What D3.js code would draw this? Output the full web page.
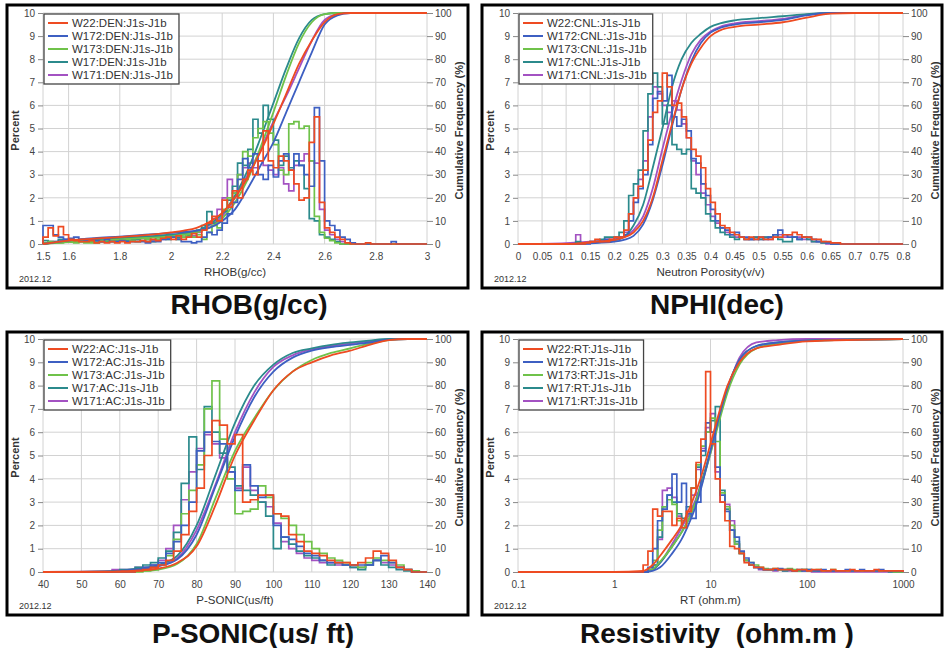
<!DOCTYPE html>
<html><head><meta charset="utf-8">
<script src="https://cdn.jsdelivr.net/npm/d3@7"></script>
<style>body{margin:0;background:#fff;} svg{display:block;font-family:"Liberation Sans",Arial,sans-serif;}</style>
</head><body><svg id="c" width="945" height="648"></svg>
<script>
// ---------------- DATA ----------------
const wells = ["W22","W172","W173","W17","W171"];
const wellColors = ["#ee4b22","#3d5fc2","#6fc24a","#2b8a8c","#a352c2"];
const percentTicks = [0,1,2,3,4,5,6,7,8,9,10];
const cumTicks = [0,10,20,30,40,50,60,70,80,90,100];

// RHOB (DEN) histogram: bins of 0.02 starting 1.50
const denBinStart = 1.5, denBinWidth = 0.02;
const denW22Hist = [0.3,0.7,0.35,0.75,0.4,0.2,0.15,0.1,0.1,0.15,0.05,0.1,0.05,0.1,0.05,0.1,0.05,0.1,0.1,0.15,0.1,0.2,0.15,0.25,0.3,0.2,0.35,0.2,0.3,0.45,0.3,0.6,0.9,1.2,1.0,1.9,1.6,2.3,2.0,2.8,3.2,3.0,3.6,4.9,3.6,3.3,3.8,3.6,3.2,2.6,1.9,2.0,4.4,5.5,1.8,0.7,0.5,0.3,0.2,0.05,0,0,0,0.05,0];
const denW172Hist = [0.8,0.8,0.4,0.3,0.2,0.25,0.3,0.2,0.15,0.2,0.15,0.1,0.2,0.1,0.1,0.15,0.1,0.1,0.1,0.1,0.05,0.1,0.1,0.2,0.2,0.3,0.2,0.1,0.1,0.05,0.1,0.3,0.5,0.4,0.6,0.9,1.3,1.8,2.8,3.7,3.3,3.9,3.0,2.8,3.4,2.9,3.6,3.9,3.2,3.9,3.4,3.0,2.5,5.9,3.6,1.0,0.8,0.6,0.3,0.2,0.05,0,0,0,0,0,0,0,0.1,0];
const denW173Hist = [0.05,0.1,0.05,0.05,0.1,0.1,0.05,0.1,0.05,0.05,0.05,0.1,0.15,0.1,0.1,0.15,0.2,0.15,0.1,0.15,0.2,0.1,0.2,0.25,0.2,0.3,0.2,0.3,0.4,0.3,0.4,0.2,0.5,0.8,0.7,1.5,2.0,2.2,3.0,4.0,3.8,4.6,5.0,5.3,4.8,4.3,3.2,3.0,5.2,5.3,5.0,5.1,3.6,1.2,0.5,0.25,0.15,0.05];
const denW17Hist = [0.15,0.1,0.1,0.2,0.15,0.2,0.1,0.15,0.1,0.2,0.15,0.2,0.1,0.2,0.15,0.2,0.15,0.2,0.2,0.25,0.2,0.3,0.2,0.3,0.25,0.35,0.3,0.4,0.35,0.5,0.6,0.8,1.4,0.9,1.0,1.4,1.9,2.5,3.5,3.4,4.1,5.4,4.8,6.0,5.4,4.5,3.4,3.8,3.3,3.6,3.4,2.4,1.1,1.0,0.4,0.3,0.2,0.1];
const denW171Hist = [0.05,0.1,0.1,0.15,0.2,0.2,0.15,0.1,0.15,0.1,0.15,0.1,0.1,0.15,0.1,0.2,0.15,0.15,0.2,0.15,0.2,0.15,0.3,0.2,0.25,0.3,0.25,0.3,0.4,0.35,0.5,0.7,0.9,1.1,1.5,2.0,2.8,2.2,3.0,3.3,3.5,3.3,3.6,3.4,3.2,3.0,3.3,2.6,2.3,3.4,3.6,3.9,3.6,3.5,1.5,0.6,0.4,0.2,0.1];
const denCumX = [1.5,1.6,1.7,1.8,1.9,2.0,2.05,2.1,2.15,2.2,2.25,2.3,2.35,2.4,2.45,2.5,2.55,2.6,2.65,2.7,2.8,3.0];
const denW22Cum = [0,1.5,2.3,3,3.8,5,5.8,7,9.5,13.5,20,29,40,52,65,78,88,96,99.5,100,100,100];
const denW172Cum = [0,1.5,2.5,3.2,4,4.8,5.2,5.8,7,10,15,24,34,44,57,70,83,95,99,100,100,100];
const denW173Cum = [0,0.8,1.3,2,2.6,3.3,4,5,7,11,18,28,42,57,73,87,96,99.5,100,100,100,100];
const denW17Cum = [0,1.2,2,2.6,3.2,4,4.6,5.5,8.5,13,21,32,46,61,76,89,97,99.5,100,100,100,100];
const denW171Cum = [0,1,1.7,2.3,3,3.8,4.5,5.5,8,12,20,30,41,53,64,76,88,97,99.5,100,100,100];
const denTicks = [1.5,1.6,1.8,2,2.2,2.4,2.6,2.8,3];

// NPHI (CNL) histogram: bins of 0.01 starting 0.10
const cnlBinStart = 0.1, cnlBinWidth = 0.01;
const cnlW22Hist = [0,0,0,0,0.05,0.1,0.2,0.1,0.1,0.2, 0.3,0.3,0.6,1.3,2.0,2.5,3.2,4.5,5.7,6.2, 7.4,6.8,6.0,6.1,5.5,4.6,4.1,3.8,3.3,2.4, 1.8,1.3,0.8,0.7,0.5,0.4,0.3,0.2,0.3,0.2, 0.3,0.2,0.2,0.3,0.3,0.4,0.4,0.5,0.4,0.3, 0.3,0.2,0.2,0.1,0.1,0.05,0.05,0,0,0];
const cnlW172Hist = [0,0,0,0,0,0.05,0.1,0.1,0.2,0.15, 0.2,0.3,0.4,1.0,1.8,2.4,3.0,4.3,6.3,6.6, 6.2,7.3,5.5,5.1,5.4,4.9,3.7,3.5,2.6,2.1, 1.5,1.0,0.7,0.6,0.4,0.5,0.3,0.3,0.2,0.2, 0.3,0.2,0.3,0.4,0.6,0.4,0.3,0.3,0.2,0.3, 0.3,0.2,0.1,0.1,0.05,0,0,0,0,0];
const cnlW173Hist = [];
const cnlW17Hist = [0,0,0.1,0,0.05,0.1,0.1,0.2,0.3,0.3, 0.3,0.5,1.0,2.1,2.6,3.2,4.9,6.5,7.4,6.8, 5.2,6.0,4.3,4.1,3.9,4.1,2.4,2.2,2.0,1.3, 1.0,0.7,0.5,0.4,0.3,0.2,0.3,0.2,0.2,0.3, 0.2,0.3,0.3,0.4,0.2,0.1,0.1,0.3,0.2,0.3, 0.2,0.1,0.1,0.05,0.05,0,0,0,0,0];
const cnlW171Hist = [0,0,0.4,0.05,0.05,0.1,0.1,0.15,0.2,0.2, 0.3,0.3,0.5,1.3,2.0,2.8,3.6,5.5,6.8,6.5, 6.0,5.7,6.2,5.8,5.2,4.6,3.6,3.0,2.2,1.7, 1.2,0.9,0.7,0.5,0.4,0.3,0.3,0.2,0.2,0.3, 0.2,0.3,0.2,0.3,0.4,0.3,0.4,0.3,0.3,0.2, 0.2,0.1,0.1,0.05,0,0,0,0,0,0];
const cnlCumX = [0,0.1,0.15,0.2,0.22,0.24,0.26,0.28,0.3,0.32,0.34,0.36,0.38,0.4,0.42,0.45,0.5,0.55,0.6,0.65,0.7,0.8];
const cnlW22Cum = [0,0,0.8,1.8,2.8,5,10,20,36,52,67,78,85,90,92.5,94,95,96,98,99.7,100,100];
const cnlW172Cum = [0,0,0.3,1,1.8,3.5,8.5,19,34,51,67,79,87,91.5,93.5,95,96,97,99,100,100,100];
const cnlW173Cum = [];
const cnlW17Cum = [0,0,0.5,1.5,3,8,17,33,50,68,80,87,91,94,95.5,96.8,97.8,98.6,99.5,100,100,100];
const cnlW171Cum = [0,0.4,1,2,3,6,12,24,41,57,71,82,88.5,92,94,95.5,96.5,97.5,99.3,100,100,100];
const cnlTicks = [0,0.05,0.1,0.15,0.2,0.25,0.3,0.35,0.4,0.45,0.5,0.55,0.6,0.65,0.7,0.75,0.8];

// P-SONIC (AC) histogram: bins of 2 starting 56
const acBinStart = 56, acBinWidth = 2;
const acW22Hist = [0,0,0,0,0.05,0.1,0.2,0.3,0.5,0.9,1.6,2.6,3.6,5.0,6.5,6.3,5.5,5.9,3.0,3.1,3.3,3.3,2.5,2.4,1.6,1.3,0.9,0.8,0.7,0.5,0.4,0.4,0.3,0.4,0.6,0.9,0.8,0.5,0.2,0.1,0];
const acW172Hist = [0,0,0,0,0.1,0.2,0.3,0.4,0.8,1.3,2.0,3.0,5.2,6.0,5.6,5.5,4.3,3.5,4.6,3.7,3.2,3.3,2.0,1.5,1.4,1.1,0.8,0.7,0.5,0.4,0.4,0.3,0.3,0.3,0.3,0.5,0.7,0.4,0.2,0.1,0];
const acW173Hist = [0,0,0,0,0,0.05,0.1,0.3,0.7,1.4,2.5,3.5,4.6,7.0,8.2,5.7,4.0,2.5,2.6,2.7,3.7,3.2,2.5,2.3,2.0,1.6,1.3,1.0,0.8,0.6,0.5,0.4,0.3,0.2,0.4,0.6,0.5,0.4,0.3,0.1,0.05];
const acW17Hist = [0,0.05,0.1,0.1,0.2,0.3,0.4,0.6,0.9,1.7,3.8,5.8,4.4,7.1,6.0,5.1,4.5,3.7,3.5,3.3,3.0,2.4,1.0,1.5,1.2,0.9,0.7,0.6,0.5,0.3,0.4,0.3,0.2,0.1,0.3,0.5,0.3,0.2,0.1,0.05,0];
const acW171Hist = [0,0.1,0.1,0.1,0.2,0.2,0.3,0.5,1.0,2.0,3.1,4.3,5.3,5.9,5.5,4.9,4.3,3.6,4.5,3.5,3.0,2.8,2.1,1.3,1.0,0.8,0.6,0.5,0.4,0.4,0.3,0.3,0.2,0.2,0.3,0.5,0.4,0.3,0.2,0.1,0];
const acCumX = [40,56,60,65,70,75,80,85,90,95,100,105,110,115,120,125,130,135,140];
const acW22Cum = [0,0.1,0.3,0.7,1.5,4,11,29,50,65,78,86,90,93,95,97.5,99.5,100,100];
const acW172Cum = [0,0.2,0.5,1.2,2.5,5.5,16,37,58,75,86,92,95,96.5,97.5,98.5,99.7,100,100];
const acW173Cum = [0,0,0.1,0.3,1,3.5,12,32,52,66,78,86,91,94,96,98,99.5,100,100];
const acW17Cum = [0,0.3,0.6,1.5,3,7,20,42,64,80,89,94,96,97.5,98.5,99.3,100,100,100];
const acW171Cum = [0,0.3,0.6,1.3,2.5,6,18,38,60,77,88,93,95.5,97,98,99,99.8,100,100];
const acTicks = [40,50,60,70,80,90,100,110,120,130,140];

// RT histogram: log10 bins of 0.05 starting at log10 = 0.30
const rtBinLogStart = 0.3, rtBinLogWidth = 0.05;
const rtW22Hist = [0.3,0.9,2.7,2.4,2.6,2.6,2.0,2.3,1.9,2.6, 3.6,4.7,5.7,8.6,5.5,4.0,3.0,2.2,1.1,1.0, 0.8,0.4,0.3,0.2,0.2,0.1,0.1,0.15,0.1,0.1, 0.1,0.05,0.1,0.1,0.05,0.1,0.1,0.05,0.05,0.1, 0.05,0.05,0.05,0.1,0.05,0.05,0.05,0.05,0.1,0.05, 0.05,0.05,0.05,0.05];
const rtW172Hist = [0,0.2,1.0,2.2,2.7,3.3,4.2,3.0,3.8,2.5, 2.3,3.0,5.2,6.4,6.0,4.5,3.3,2.6,1.8,1.5, 0.9,0.6,0.4,0.2,0.15,0.1,0.1,0.1,0.15,0.1, 0.1,0.05,0.1,0.05,0.1,0.05,0.05,0.1,0.05,0.05, 0.05,0.05,0.1,0.05,0.05,0.1,0.05,0.05,0.05,0.1, 0.05,0.05,0.05,0.05];
const rtW173Hist = [0,0.1,0.5,1.8,2.8,3.1,2.9,2.2,1.9,2.5, 3.6,4.6,5.4,6.0,6.6,5.6,3.4,2.8,2.0,1.2, 0.8,0.5,0.4,0.3,0.2,0.15,0.1,0.15,0.1,0.1, 0.15,0.1,0.05,0.1,0.1,0.05,0.1,0.05,0.05,0.1, 0.05,0.05,0.05,0.05,0.05,0.05,0.05,0.05,0.05,0.05, 0.05,0.05,0,0];
const rtW17Hist = [0,0.1,0.3,1.5,2.8,3.3,3.0,2.5,2.3,2.8, 3.6,4.5,5.0,6.0,6.5,7.1,3.5,2.7,1.8,1.3, 0.8,0.5,0.3,0.2,0.15,0.1,0.1,0.1,0.1,0.05, 0.1,0.05,0.05,0.1,0.05,0.05,0.05,0.05,0.05,0.05, 0.05,0.05,0.05,0.05,0.05,0.05,0.05,0.05,0.05,0.05, 0.05,0,0,0];
const rtW171Hist = [0,0.1,0.3,1.4,3.5,3.6,3.2,2.4,2.2,2.4, 3.3,4.4,5.3,6.2,6.8,4.3,3.0,2.9,2.2,1.2, 0.8,0.5,0.3,0.2,0.1,0.1,0.1,0.05,0.1,0.05, 0.05,0.05,0.05,0.05,0.05];
const rtCumX = [0.1,1,2,2.5,3,4,5,6,7,8,10,12,15,20,30,50,100,1000];
const rtW22Cum = [0,0,0.5,3,7,14,20,27,34,41,55,67,80,90,96,97.5,99,100];
const rtW172Cum = [0,0,0,0.5,2,8,14,21,28,36,52,65,79,91,97,98.5,99.3,100];
const rtW173Cum = [0,0,0,1.2,4.5,11,17,23,30,37,51,63,77,89,96,98,99.2,100];
const rtW17Cum = [0,0,0,1,4,11,17,23,30,38,52,65,79,91,97,98.5,99.3,100];
const rtW171Cum = [0,0,0,1,4,12,19,25,31,38,51,64,78,92,98.5,99.5,100,100];
const rtTicks = [0.1,1,10,100,1000];

// ---------------- CHART ----------------
const svg = d3.select("#c");

const panels = [
  {frame:{x:7,y:5,w:461,h:283}, plot:{l:43,r:427,t:13,b:244}, log:false, domain:[1.5,3], ticks:denTicks,
   tag:"DEN", xLabel:"RHOB(g/cc)", title:"RHOB(g/cc)", titleX:249, titleY:314,
   binStart:denBinStart, binWidth:denBinWidth, cumX:denCumX,
   hists:[denW22Hist,denW172Hist,denW173Hist,denW17Hist,denW171Hist],
   cums:[denW22Cum,denW172Cum,denW173Cum,denW17Cum,denW171Cum]},
  {frame:{x:482,y:5,w:460,h:283}, plot:{l:518,r:903,t:13,b:244}, log:false, domain:[0,0.8], ticks:cnlTicks,
   tag:"CNL", xLabel:"Neutron Porosity(v/v)", title:"NPHI(dec)", titleX:717, titleY:314,
   binStart:cnlBinStart, binWidth:cnlBinWidth, cumX:cnlCumX,
   hists:[cnlW22Hist,cnlW172Hist,cnlW173Hist,cnlW17Hist,cnlW171Hist],
   cums:[cnlW22Cum,cnlW172Cum,cnlW173Cum,cnlW17Cum,cnlW171Cum]},
  {frame:{x:7,y:332,w:461,h:283}, plot:{l:43,r:427,t:339,b:572}, log:false, domain:[40,140], ticks:acTicks,
   tag:"AC", xLabel:"P-SONIC(us/ft)", title:"P-SONIC(us/ ft)", titleX:253, titleY:643,
   binStart:acBinStart, binWidth:acBinWidth, cumX:acCumX,
   hists:[acW22Hist,acW172Hist,acW173Hist,acW17Hist,acW171Hist],
   cums:[acW22Cum,acW172Cum,acW173Cum,acW17Cum,acW171Cum]},
  {frame:{x:482,y:332,w:460,h:283}, plot:{l:518,r:903,t:339,b:572}, log:true, domain:[0.1,1000], ticks:rtTicks,
   tag:"RT", xLabel:"RT (ohm.m)", title:"Resistivity  (ohm.m )", titleX:717, titleY:643,
   binStart:rtBinLogStart, binWidth:rtBinLogWidth, cumX:rtCumX,
   hists:[rtW22Hist,rtW172Hist,rtW173Hist,rtW17Hist,rtW171Hist],
   cums:[rtW22Cum,rtW172Cum,rtW173Cum,rtW17Cum,rtW171Cum]}
];

function drawPanel(p){
  const g = svg.append("g");
  const x = (p.log ? d3.scaleLog() : d3.scaleLinear()).domain(p.domain).range([p.plot.l, p.plot.r]);
  const y = d3.scaleLinear().domain([0,10]).range([p.plot.b, p.plot.t]);
  const yc = d3.scaleLinear().domain([0,100]).range([p.plot.b, p.plot.t]);

  // grid
  g.append("g").selectAll("line").data(p.ticks).join("line")
    .attr("x1",d=>x(d)).attr("x2",d=>x(d)).attr("y1",p.plot.t).attr("y2",p.plot.b)
    .attr("stroke","#d2d2d2").attr("stroke-width",1);
  g.append("g").selectAll("line").data(percentTicks).join("line")
    .attr("x1",p.plot.l).attr("x2",p.plot.r).attr("y1",d=>y(d)).attr("y2",d=>y(d))
    .attr("stroke","#d2d2d2").attr("stroke-width",1);

  // axes
  const fmt = d3.format("~g");
  const ax = g.append("g").attr("transform",`translate(${p.plot.l},0)`)
    .call(d3.axisLeft(y).tickValues(percentTicks).tickSize(5).tickPadding(3));
  const ar = g.append("g").attr("transform",`translate(${p.plot.r},0)`)
    .call(d3.axisRight(yc).tickValues(cumTicks).tickSize(6).tickPadding(2));
  const ab = g.append("g").attr("transform",`translate(0,${p.plot.b})`)
    .call(d3.axisBottom(x).tickValues(p.ticks).tickFormat(fmt).tickSize(0).tickPadding(9));
  [ax,ar,ab].forEach(a=>{
    a.select(".domain").remove();
    a.selectAll("line").attr("stroke","#888");
    a.selectAll("text").attr("fill","#444").style("font-size","10px");
  });

  // histograms and cumulative curves (draw last legend entry first so W22 lies on top)
  const stepLine = d3.line().x(d=>x(d[0])).y(d=>y(d[1])).curve(d3.curveStepAfter);
  const cumLine = d3.line().x(d=>x(d[0])).y(d=>yc(d[1])).curve(d3.curveMonotoneX);
  const edge = i => p.log ? Math.pow(10, p.binStart + i*p.binWidth) : p.binStart + i*p.binWidth;
  for (let k = wells.length-1; k >= 0; k--) {
    const h = p.hists[k];
    if (h.length) {
      const pts = [[p.domain[0],0]];
      h.forEach((v,i)=>pts.push([edge(i), v]));
      pts.push([edge(h.length),0]);
      pts.push([p.domain[1],0]);
      g.append("path").attr("d",stepLine(pts)).attr("fill","none")
        .attr("stroke",wellColors[k]).attr("stroke-width",1.7).attr("stroke-linejoin","miter");
    }
    const c = p.cums[k];
    if (c.length) {
      const cp = p.cumX.map((xv,i)=>[xv,c[i]]);
      g.append("path").attr("d",cumLine(cp)).attr("fill","none")
        .attr("stroke",wellColors[k]).attr("stroke-width",1.8);
    }
  }

  // legend
  const lg = g.append("g");
  const box = lg.append("rect").attr("x",p.plot.l+1).attr("y",p.plot.t+1).attr("height",70)
    .attr("fill","#fff").attr("stroke","#444").attr("stroke-width",1.3);
  let maxW = 0;
  wells.forEach((w,i)=>{
    const ly = p.plot.t + 10 + i*13;
    lg.append("line").attr("x1",p.plot.l+5).attr("x2",p.plot.l+25).attr("y1",ly).attr("y2",ly)
      .attr("stroke",wellColors[i]).attr("stroke-width",2);
    const t = lg.append("text").attr("x",p.plot.l+29).attr("y",ly+4).text(`${w}:${p.tag}:J1s-J1b`)
      .attr("fill","#333").style("font-size","11.5px");
    maxW = Math.max(maxW, t.node().getComputedTextLength());
  });
  box.attr("width", maxW + 34);

  // labels
  g.append("text").attr("x",(p.plot.l+p.plot.r)/2).attr("y",p.plot.b+32).attr("text-anchor","middle")
    .attr("fill","#333").style("font-size","11.5px").text(p.xLabel);
  g.append("text").attr("x",p.frame.x+12).attr("y",p.frame.y+p.frame.h-6)
    .attr("fill","#333").style("font-size","9px").text("2012.12");
  const cy = (p.plot.t+p.plot.b)/2 + 2;
  g.append("text").attr("transform",`translate(${p.frame.x+12},${cy}) rotate(-90)`).attr("text-anchor","middle")
    .attr("fill","#333").style("font-size","11px").style("font-weight","bold").text("Percent");
  g.append("text").attr("transform",`translate(${p.plot.r+36},${cy}) rotate(-90)`).attr("text-anchor","middle")
    .attr("fill","#333").style("font-size","11px").style("font-weight","bold").text("Cumulative Frequency (%)");

  // frame
  g.append("rect").attr("x",p.frame.x).attr("y",p.frame.y).attr("width",p.frame.w).attr("height",p.frame.h)
    .attr("fill","none").attr("stroke","#000").attr("stroke-width",3);

  // big title
  svg.append("text").attr("x",p.titleX).attr("y",p.titleY).attr("text-anchor","middle")
    .attr("fill","#111").style("font-size","28px").style("font-weight","bold")
    .style("white-space","pre").attr("xml:space","preserve").text(p.title);
}
panels.forEach(drawPanel);
</script>
</body></html>
